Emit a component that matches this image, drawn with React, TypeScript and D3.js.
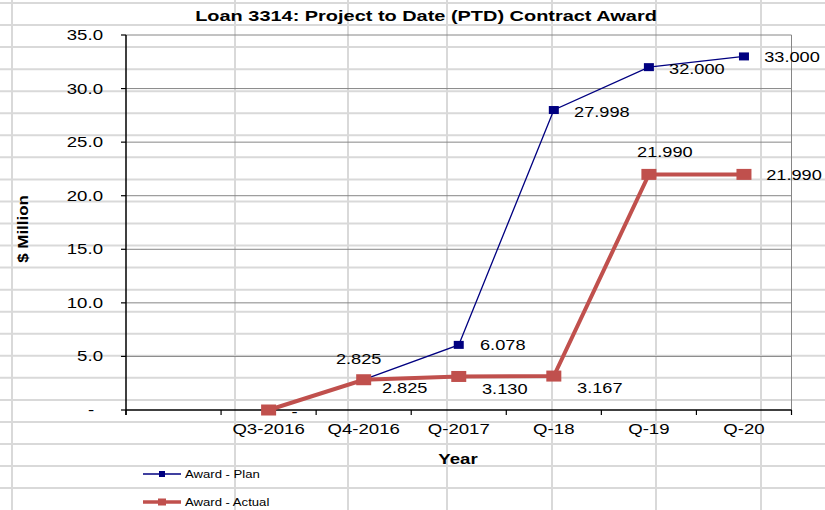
import { useEffect, useRef } from 'react'
import * as d3 from 'd3'

const categories = ['', 'Q3-2016', 'Q4-2016', 'Q-2017', 'Q-18', 'Q-19', 'Q-20']
const planValues: (number | null)[] = [null, null, 2.825, 6.078, 27.998, 32.0, 33.0]
const actualValues: (number | null)[] = [null, 0, 2.825, 3.13, 3.167, 21.99, 21.99]
const yTicks = [0, 5, 10, 15, 20, 25, 30, 35]

// hand-placed data label offsets (Excel style), relative to the point
const planLabelOffsets = [[0, 0], [0, 0], [-5, -16], [44, 5], [48, 7], [48, 7], [48, 6]]
const actualLabelOffsets = [[0, 0], [26, 7], [41, 13], [46, 18], [46, 17], [16, -17], [50, 6]]

// spreadsheet cell borders behind the chart
const sheetCols = [12, 235, 348, 447, 552, 656, 761]

const W = 825
const H = 510
const SX = 1.33
const FONT = 'Liberation Sans, Arial, sans-serif'

export default function App() {
  const svgRef = useRef<SVGSVGElement>(null)

  useEffect(() => {
    if (!svgRef.current) return
    const svg = d3.select(svgRef.current)
    svg.selectAll('*').remove()

    const margin = { top: 35, right: 33.5, bottom: 100, left: 126 }

    // Background cell grid
    const sheet = svg.append('g')
    d3.range(23).forEach(i => {
      const y = 3 + i * 22.05
      sheet.append('line').attr('x1', 0).attr('x2', W).attr('y1', y).attr('y2', y)
        .attr('stroke', '#d9d9d9').attr('stroke-width', 2)
    })
    sheetCols.forEach(x => {
      sheet.append('line').attr('x1', x).attr('x2', x).attr('y1', 0).attr('y2', H)
        .attr('stroke', '#d9d9d9').attr('stroke-width', 2)
    })

    const xScale = d3.scaleBand<string>()
      .domain(categories.map((c, i) => i + '|' + c))
      .range([margin.left, W - margin.right])
      .padding(0)
    const key = (i: number) => i + '|' + categories[i]
    const cx = (i: number) => (xScale(key(i)) || 0) + xScale.bandwidth() / 2

    const yScale = d3.scaleLinear().domain([0, 35]).range([H - margin.bottom - 0, margin.top])
    const y0 = yScale(0)
    const x0 = margin.left
    const x1 = W - margin.right

    const stretched = (g: d3.Selection<any, any, any, any>, x: number, y: number, txt: string, opts: { size: number; bold?: boolean; anchor?: string; sx?: number }) => {
      g.append('g')
        .attr('transform', `translate(${x},${y}) scale(${opts.sx ?? SX},1)`)
        .append('text')
        .attr('text-anchor', opts.anchor || 'middle')
        .attr('font-family', FONT)
        .attr('font-size', opts.size)
        .attr('font-weight', opts.bold ? 'bold' : 'normal')
        .attr('fill', '#000')
        .text(txt)
    }

    const g = svg.append('g')

    // Gridlines
    yTicks.filter(t => t > 0).forEach(t => {
      g.append('line').attr('x1', x0).attr('x2', x1).attr('y1', yScale(t)).attr('y2', yScale(t))
        .attr('stroke', '#868686').attr('stroke-width', 1)
    })
    // right border of the plot area
    g.append('line').attr('x1', x1).attr('x2', x1).attr('y1', yScale(35)).attr('y2', y0)
      .attr('stroke', '#868686').attr('stroke-width', 1)

    // Y axis
    g.append('line').attr('x1', x0).attr('x2', x0).attr('y1', yScale(35)).attr('y2', y0 + 5)
      .attr('stroke', '#000').attr('stroke-width', 1.5)
    yTicks.forEach(t => {
      g.append('line').attr('x1', x0 - 5).attr('x2', x0).attr('y1', yScale(t)).attr('y2', yScale(t))
        .attr('stroke', '#000').attr('stroke-width', 1.2)
      const label = t === 0 ? '-' : d3.format('.1f')(t)
      stretched(g, t === 0 ? 91 : 103, yScale(t) + 5, label, { size: 14, anchor: t === 0 ? 'middle' : 'end' })
    })

    // X axis
    g.append('line').attr('x1', x0).attr('x2', x1).attr('y1', y0).attr('y2', y0)
      .attr('stroke', '#000').attr('stroke-width', 1.5)
    categories.forEach((c, i) => {
      const xe = xScale(key(i)) || 0
      g.append('line').attr('x1', xe).attr('x2', xe).attr('y1', y0).attr('y2', y0 + 5)
        .attr('stroke', '#000').attr('stroke-width', 1.2)
      if (c) stretched(g, cx(i), 434, c, { size: 14 })
    })
    g.append('line').attr('x1', x1).attr('x2', x1).attr('y1', y0).attr('y2', y0 + 5)
      .attr('stroke', '#000').attr('stroke-width', 1.2)

    // Titles
    stretched(g, 426, 21, 'Loan 3314: Project to Date (PTD) Contract Award', { size: 15, bold: true })
    stretched(g, 458, 464, 'Year', { size: 14, bold: true })
    g.append('g')
      .attr('transform', `translate(28,229) rotate(-90) scale(1.3,1.18)`)
      .append('text')
      .attr('text-anchor', 'middle')
      .attr('font-family', FONT)
      .attr('font-size', 13)
      .attr('font-weight', 'bold')
      .text('$ Million')

    const line = d3.line<number | null>()
      .defined(d => d != null)
      .x((_, i) => cx(i))
      .y(d => yScale(d as number))

    // Plan series
    g.append('path').datum(planValues).attr('d', line)
      .attr('fill', 'none').attr('stroke', '#000080').attr('stroke-width', 1.3)
    // Actual series
    g.append('path').datum(actualValues).attr('d', line)
      .attr('fill', 'none').attr('stroke', '#C0504D').attr('stroke-width', 4)

    planValues.forEach((v, i) => {
      if (v == null) return
      g.append('rect').attr('x', cx(i) - 5).attr('y', yScale(v) - 4).attr('width', 10).attr('height', 8)
        .attr('fill', '#000080')
    })
    actualValues.forEach((v, i) => {
      if (v == null) return
      g.append('rect').attr('x', cx(i) - 7.5).attr('y', yScale(v) - 5.5).attr('width', 15).attr('height', 11)
        .attr('fill', '#C0504D')
    })

    // Data labels
    const fmt = (v: number) => (v === 0 ? '-' : d3.format('.3f')(v))
    planValues.forEach((v, i) => {
      if (v == null) return
      const [dx, dy] = planLabelOffsets[i]
      stretched(g, cx(i) + dx, yScale(v) + dy, fmt(v), { size: 14, sx: 1.3 })
    })
    actualValues.forEach((v, i) => {
      if (v == null) return
      const [dx, dy] = actualLabelOffsets[i]
      stretched(g, cx(i) + dx, yScale(v) + dy, fmt(v), { size: 14, sx: 1.3 })
    })

    // Legend
    const legend = [
      { name: 'Award - Plan', color: '#000080', width: 1.3, mw: 6, mh: 6, y: 474 },
      { name: 'Award - Actual', color: '#C0504D', width: 3.5, mw: 8, mh: 7, y: 502 },
    ]
    legend.forEach(l => {
      g.append('line').attr('x1', 143).attr('x2', 181).attr('y1', l.y).attr('y2', l.y)
        .attr('stroke', l.color).attr('stroke-width', l.width)
      g.append('rect').attr('x', 162 - l.mw / 2).attr('y', l.y - l.mh / 2)
        .attr('width', l.mw).attr('height', l.mh).attr('fill', l.color)
      stretched(g, 185, l.y + 4, l.name, { size: 10.5, anchor: 'start', sx: 1.25 })
    })
  }, [])

  return (
    <svg
      ref={svgRef}
      width={W}
      height={H}
      style={{ position: 'absolute', left: 0, top: 0, background: '#fff' }}
    />
  )
}
